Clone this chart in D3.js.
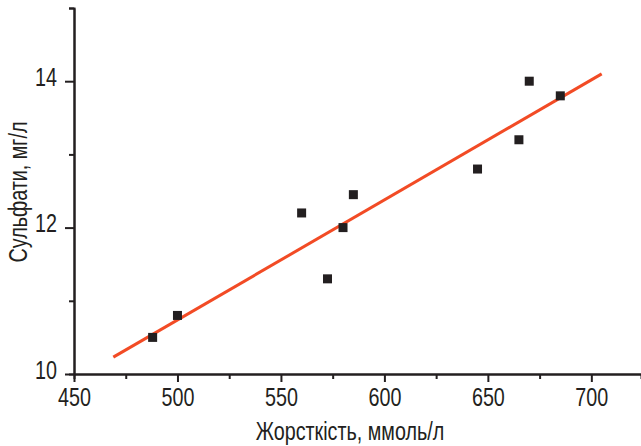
<!DOCTYPE html>
<html>
<head>
<meta charset="utf-8">
<script src="https://cdn.jsdelivr.net/npm/d3@7"></script>
<style>
  body { margin: 0; background: #fff; }
  text { font-family: "Liberation Sans", Arial, sans-serif; fill: #231f20; }
</style>
</head>
<body>
<div class="box"></div>
<script>
// Measured points: hardness (x) vs sulfates (y)
const hardness = [488, 500, 560, 572.5, 580, 585, 645, 665, 670, 685];
const sulfates = [10.5, 10.8, 12.2, 11.3, 12.0, 12.45, 12.8, 13.2, 14.0, 13.8];

// Fitted line end points
const fitX = [469, 705];
const fitY = [10.23, 14.1];

const xTicks = [450, 500, 550, 600, 650, 700];
const yTicks = [10, 12, 14];

const w = 641;
const h = 446;
const fontFam = "'Liberation Sans', Arial, sans-serif";
const condense = "scale(0.79,1)";   // the original type is a narrow face

const xScale = d3.scaleLinear().domain([450, 724]).range([74, 641]);
const yScale = d3.scaleLinear().domain([10, 15]).range([374, 8]);

const svg = d3.select(".box")
    .append("svg")
    .attr("width", w)
    .attr("height", h);

// minor ticks (no labels)
const xAxisMinor = d3.axisBottom(xScale).tickValues([475, 525, 575, 625, 675, 725]).tickSize(5).tickFormat("");
const yAxisMinor = d3.axisLeft(yScale).tickValues([11, 13, 15]).tickSize(5).tickFormat("");

// major ticks
const xAxis = d3.axisBottom(xScale).tickValues(xTicks).tickSize(8).tickPadding(6).tickSizeOuter(0).tickFormat(d3.format("d"));
const yAxis = d3.axisLeft(yScale).tickValues(yTicks).tickSize(9).tickPadding(8).tickSizeOuter(0).tickFormat(d3.format("d"));

svg.append("g")
    .attr("transform", "translate(0," + yScale(10) + ")")
    .call(xAxisMinor);
svg.append("g")
    .attr("transform", "translate(" + xScale(450) + ",0)")
    .call(yAxisMinor);

const gx = svg.append("g")
    .attr("transform", "translate(0," + yScale(10) + ")")
    .call(xAxis)
    .attr("id", "x-axis");
const gy = svg.append("g")
    .attr("transform", "translate(" + xScale(450) + ",0)")
    .call(yAxis)
    .attr("id", "y-axis");

svg.selectAll(".domain, .tick line")
    .style("stroke", "#231f20")
    .style("stroke-width", 2);
svg.selectAll(".tick text")
    .style("font-size", "25px")
    .style("font-family", fontFam)
    .style("fill", "#231f20");

gx.selectAll(".tick text")
    .attr("transform", condense);
gy.selectAll(".tick text")
    .attr("x", 0)
    .attr("dy", "0.16em")
    .attr("transform", "translate(-17,0) " + condense);

// fit line
svg.append("line")
    .attr("x1", xScale(fitX[0]))
    .attr("y1", yScale(fitY[0]))
    .attr("x2", xScale(fitX[1]))
    .attr("y2", yScale(fitY[1]))
    .style("stroke", "#f24b25")
    .style("stroke-width", 3);

// square markers
const s = 9;
svg.selectAll("rect.pt")
    .data(hardness)
    .enter()
    .append("rect")
    .attr("class", "pt")
    .attr("x", (d) => xScale(d) - s / 2)
    .attr("y", (d, i) => yScale(sulfates[i]) - s / 2)
    .attr("width", s)
    .attr("height", s)
    .style("fill", "#231f20");

// axis names
svg.append("text")
    .attr("transform", "translate(350,440) " + condense)
    .attr("text-anchor", "middle")
    .style("font-size", "25px")
    .style("font-family", fontFam)
    .text("Жорсткість, ммоль/л");

svg.append("text")
    .attr("transform", "translate(27,192) rotate(-90) " + condense)
    .attr("text-anchor", "middle")
    .style("font-size", "25px")
    .style("font-family", fontFam)
    .text("Сульфати, мг/л");
</script>
</body>
</html>
